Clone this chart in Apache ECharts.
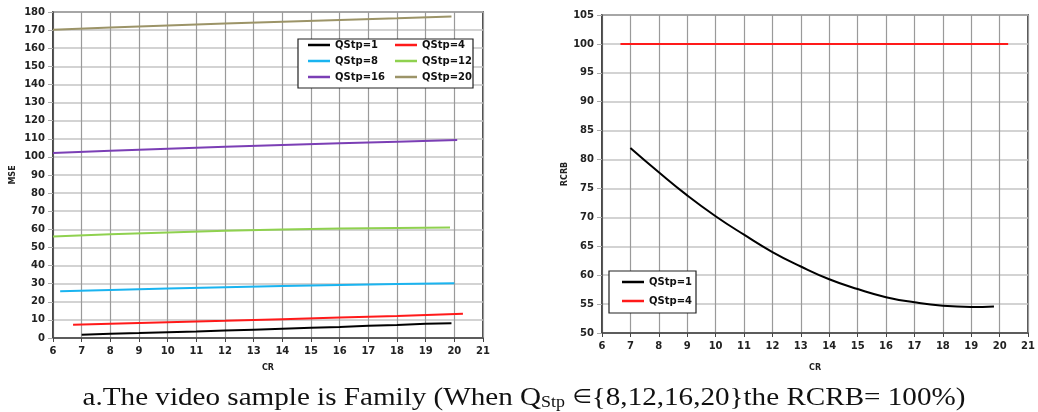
<!DOCTYPE html>
<html>
<head>
<meta charset="utf-8">
<script src="https://cdn.jsdelivr.net/npm/echarts@6/dist/echarts.min.js"></script>
<style>
  html, body { margin: 0; padding: 0; background: #fff; }
  #chart { width: 1038px; height: 412px; }
</style>
</head>
<body>
<div id="chart"></div>
<script>
// MSE vs CR for each quantisation step
const mseQ1  = [[7, 1.8], [8, 2.3], [9, 2.7], [10, 3.2], [11, 3.6], [12, 4.1], [13, 4.6], [14, 5.1], [15, 5.6], [16, 6.1], [17, 6.7], [18, 7.2], [19, 7.8], [19.9, 8.2]];
const mseQ4  = [[6.7, 7.3], [8, 7.9], [10, 8.7], [12, 9.5], [14, 10.4], [16, 11.3], [18, 12.2], [20.3, 13.4]];
const mseQ8  = [[6.25, 25.8], [8, 26.5], [10, 27.3], [12, 28.0], [14, 28.7], [16, 29.3], [18, 29.8], [20, 30.2]];
const mseQ12 = [[6, 56.0], [8, 57.3], [10, 58.3], [12, 59.2], [14, 59.9], [16, 60.4], [18, 60.8], [19.85, 61.0]];
const mseQ16 = [[6, 102.2], [8, 103.4], [10, 104.5], [12, 105.6], [14, 106.6], [16, 107.5], [18, 108.4], [20.1, 109.3]];
const mseQ20 = [[6, 170.2], [8, 171.5], [10, 172.6], [12, 173.6], [14, 174.6], [16, 175.6], [18, 176.5], [19.9, 177.5]];

// RCRB vs CR
const rcrbQ1 = [[7, 82.0], [8, 77.8], [9, 73.8], [10, 70.2], [11, 67.0], [12, 64.0], [13, 61.5], [14, 59.3], [15, 57.6], [16, 56.2], [17, 55.3], [18, 54.7], [19, 54.5], [19.8, 54.6]];
const rcrbQ4 = [[6.65, 100], [10, 100], [15, 100], [20.3, 100]];

const seriesNames = ['QStp=1', 'QStp=4', 'QStp=8', 'QStp=12', 'QStp=16', 'QStp=20'];
const seriesColors = ['#000000', '#ff1a1a', '#1ab4f0', '#8fd14f', '#7b3fb5', '#9c9468'];

const caption = 'a.The video sample is Family (When Q{sub|Stp} {el|\u2208}{8,12,16,20}the RCRB= 100%)';

const axisFont = { fontFamily: 'DejaVu Sans', fontWeight: 'bold', fontSize: 10, color: '#222' };

function xAxisFor(gridIndex, gap) {
  return {
    type: 'value', gridIndex, min: 6, max: 21, interval: 1,
    name: 'CR', nameLocation: 'middle', nameGap: gap,
    nameTextStyle: { fontFamily: 'DejaVu Sans', fontWeight: 'bold', fontSize: 8, color: '#222' },
    axisLine: { show: true, lineStyle: { color: '#444', width: 1.5 } },
    axisTick: { show: true, lineStyle: { color: '#444' }, length: 4 },
    axisLabel: Object.assign({ margin: 8 }, axisFont),
    splitLine: { show: true, lineStyle: { color: '#9a9a9a', width: 1.2 } }
  };
}
function yAxisFor(gridIndex, min, max, interval, name, gap) {
  return {
    type: 'value', gridIndex, min, max, interval,
    name, nameLocation: 'middle', nameGap: gap, nameRotate: 90,
    nameTextStyle: { fontFamily: 'DejaVu Sans', fontWeight: 'bold', fontSize: 8, color: '#222' },
    axisLine: { show: true, lineStyle: { color: '#444', width: 1.5 } },
    axisTick: { show: true, lineStyle: { color: '#aaa' }, length: 5 },
    axisLabel: Object.assign({ margin: 8 }, axisFont),
    splitLine: { show: true, lineStyle: { color: '#c4c4c4', width: 1.5 } }
  };
}
function line(name, data, color, xi, yi, smooth) {
  return {
    type: 'line', name, data, xAxisIndex: xi, yAxisIndex: yi,
    smooth: !!smooth, showSymbol: false, symbol: 'none',
    lineStyle: { color, width: 2 }, itemStyle: { color }
  };
}
const legendText = { fontFamily: 'DejaVu Sans', fontWeight: 'bold', fontSize: 10, color: '#111' };
function legendBlock(names, left, top, gap) {
  return {
    data: names, orient: 'vertical', left, top, itemGap: gap, z: 20,
    icon: 'rect', itemWidth: 22, itemHeight: 2.5,
    textStyle: legendText, selectedMode: false, padding: 0
  };
}

const chart = echarts.init(document.getElementById('chart'), null, { renderer: 'canvas' });
chart.setOption({
  backgroundColor: '#fff',
  animation: false,
  grid: [
    { left: 53, top: 12, width: 430, height: 326, show: true, borderColor: '#111', borderWidth: 1.5, backgroundColor: 'transparent' },
    { left: 602, top: 15, width: 431, height: 318, show: true, borderColor: '#111', borderWidth: 1.5, backgroundColor: 'transparent' }
  ],
  xAxis: [xAxisFor(0, 26), xAxisFor(1, 31)],
  yAxis: [yAxisFor(0, 0, 180, 10, 'MSE', 36), yAxisFor(1, 50, 105, 5, 'RCRB', 32)],
  legend: [
    legendBlock(['QStp=1', 'QStp=8', 'QStp=16'], 308, 40, 6),
    legendBlock(['QStp=4', 'QStp=12', 'QStp=20'], 395, 40, 6),
    legendBlock([{ name: 'QStp=1 ' }, { name: 'QStp=4 ' }], 622, 277, 9)
  ],
  graphic: [
    { type: 'rect', shape: { x: 298, y: 39, width: 175, height: 49 }, style: { fill: '#fff', stroke: '#222', lineWidth: 1.2 }, z: 5 },
    { type: 'rect', shape: { x: 609, y: 271, width: 87, height: 42 }, style: { fill: '#fff', stroke: '#222', lineWidth: 1.2 }, z: 5 },
    {
      type: 'text', x: 524, y: 398, scaleX: 1.12, originX: 0, originY: 0, z: 5,
      style: {
        text: caption, align: 'center', verticalAlign: 'middle',
        fontFamily: 'Liberation Serif', fontSize: 26, fill: '#111',
        rich: {
          sub: { fontFamily: 'Liberation Serif', fontSize: 16, verticalAlign: 'bottom', padding: [10, 0, 0, 0], fill: '#111' },
          el: { fontFamily: 'DejaVu Sans', fontSize: 20, fill: '#111' }
        }
      }
    }
  ],
  series: [
    line(seriesNames[0], mseQ1, seriesColors[0], 0, 0),
    line(seriesNames[1], mseQ4, seriesColors[1], 0, 0),
    line(seriesNames[2], mseQ8, seriesColors[2], 0, 0),
    line(seriesNames[3], mseQ12, seriesColors[3], 0, 0),
    line(seriesNames[4], mseQ16, seriesColors[4], 0, 0),
    line(seriesNames[5], mseQ20, seriesColors[5], 0, 0),
    line('QStp=1 ', rcrbQ1, seriesColors[0], 1, 1, true),
    line('QStp=4 ', rcrbQ4, seriesColors[1], 1, 1)
  ]
});
</script>
</body>
</html>
